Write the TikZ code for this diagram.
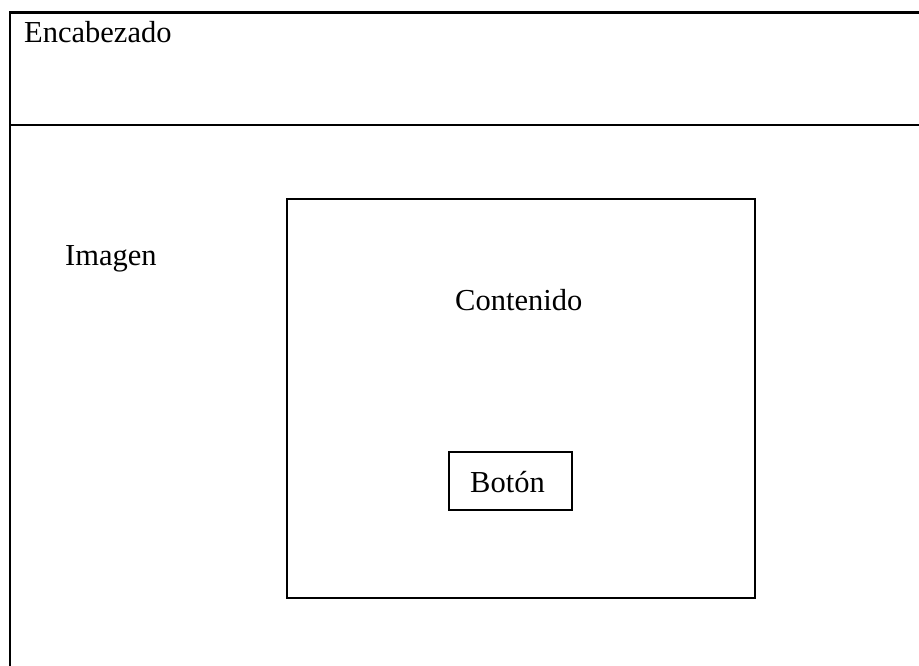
\documentclass[tikz,border=0pt]{standalone}
\usepackage{fontspec}
\setmainfont{Liberation Serif}
\begin{document}
\begin{tikzpicture}[x=1pt,y=-1pt,
  frame/.style={line width=2.2pt},
  boxline/.style={draw,line width=2pt,inner sep=0pt},
  lbl/.style={anchor=base west,inner sep=0pt,font=\fontsize{30.5}{36}\selectfont}]
\useasboundingbox (0,0) rectangle (919,666);
\coordinate (tl) at (10,12.5);
\coordinate (tr) at (925,12.5);
\coordinate (bl) at (10,670);
\coordinate (hl) at (10,125);
\coordinate (hr) at (925,125);
\draw[frame] (bl) -- (tl) -- (tr);
\draw[frame] (hl) -- (hr);
\node[boxline,minimum width=468pt,minimum height=399pt] (content) at (520.5,398.5) {};
\node[boxline,minimum width=123pt,minimum height=58pt] (button) at (510,481) {};
\node[lbl] (header) at (24,43) {Encabezado};
\node[lbl] (imagen) at (65,265) {Imagen};
\node[lbl] (contenido) at (455,310) {Contenido};
\node[lbl] (boton) at (470,492) {Botón};
\end{tikzpicture}
\end{document}
